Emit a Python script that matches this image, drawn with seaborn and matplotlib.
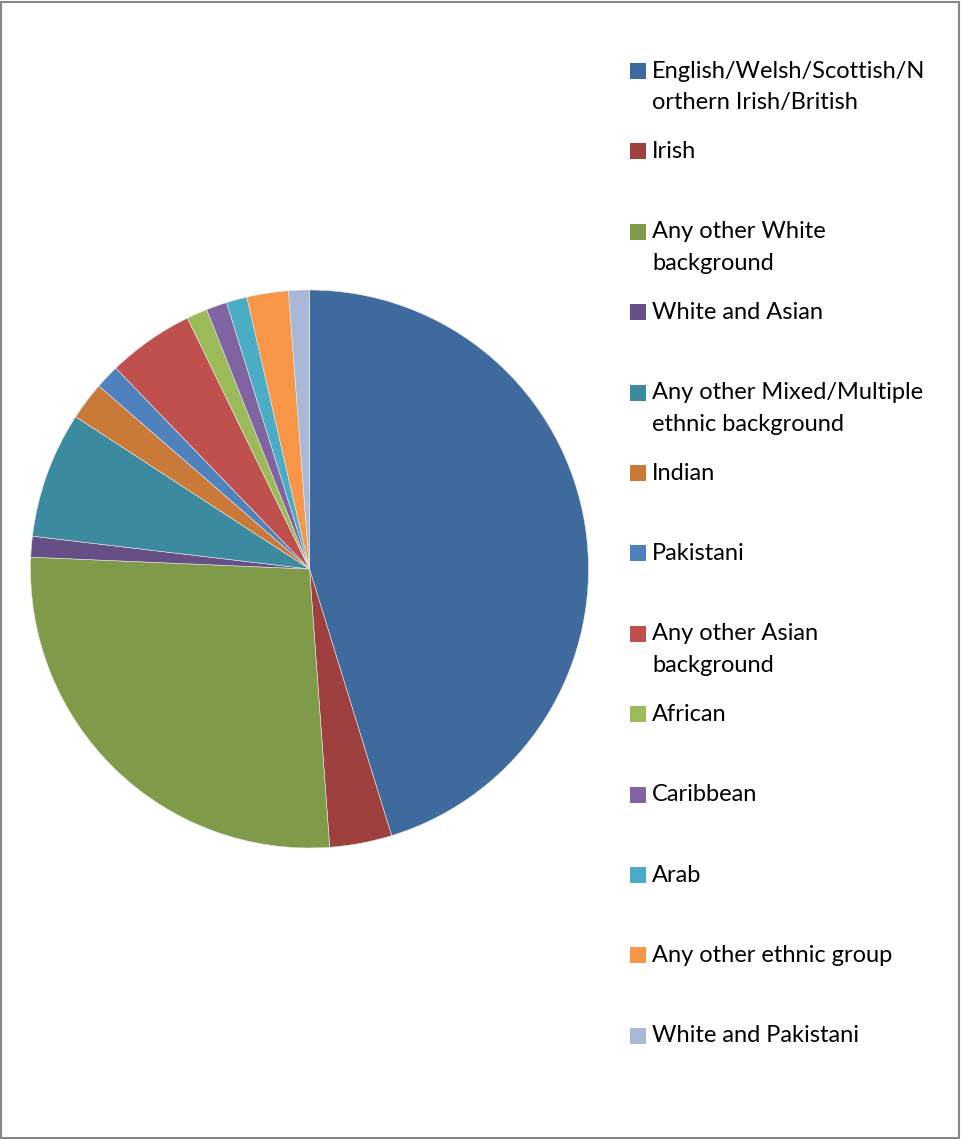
import numpy as np
import matplotlib.pyplot as plt
import seaborn as sns
from matplotlib.patches import Rectangle

sns.set_theme(style='white')
plt.rcParams['font.family'] = ['Lato', 'DejaVu Sans']

#::: data (share in %)
groups = ['English/Welsh/Scottish/N\northern Irish/British', 'Irish',
          'Any other White\nbackground', 'White and Asian',
          'Any other Mixed/Multiple\nethnic background', 'Indian', 'Pakistani',
          'Any other Asian\nbackground', 'African', 'Caribbean', 'Arab',
          'Any other ethnic group', 'White and Pakistani']
shares = [45.2, 3.6, 26.8, 1.2, 7.3, 2.2, 1.4, 5.0, 1.2, 1.2, 1.2, 2.4, 1.2]
colors = ['#3F6A9D', '#9E413E', '#7F9A48', '#664F84', '#3C8AA0', '#CA7A38',
          '#4F81BD', '#C0504D', '#9BBB59', '#8064A2', '#4BACC6', '#F79646',
          '#A9B8D6']
palette = sns.color_palette(colors)

W, H = 961, 1139
fig = plt.figure(figsize=(W / 100, H / 100), dpi=100)
fig.patch.set_facecolor('white')

#::: pie
cx, cy, r = 309.5, 569, 279
ax = fig.add_axes([(cx - r) / W, (H - cy - r) / H, 2 * r / W, 2 * r / H])
ax.pie(shares, colors=palette, startangle=90, counterclock=False, radius=1,
       wedgeprops={'edgecolor': '#e8e8e8', 'linewidth': 0.4})
ax.set_xlim(-1, 1)
ax.set_ylim(-1, 1)
ax.set_aspect('equal')
ax.axis('off')

#::: legend (first line aligned with the marker)
y0, dy, line_h = 71, 80.4, 32
for i, (lab, col) in enumerate(zip(groups, palette)):
    yc = y0 + i * dy
    fig.patches.append(Rectangle((630 / W, 1 - (yc + 8) / H), 16 / W, 16 / H,
                                 transform=fig.transFigure, facecolor=col,
                                 edgecolor='none'))
    for j, line in enumerate(lab.split('\n')):
        fig.text(652 / W, 1 - (yc + j * line_h) / H, line, fontsize=17,
                 color='black', va='center', ha='left')

#::: border
fig.patches.append(Rectangle((0.5 / W, 1.5 / H), (W - 2.5) / W, (H - 3) / H,
                             transform=fig.transFigure, facecolor='none',
                             edgecolor='#868686', linewidth=1.5))

fig.savefig('out.png', dpi=100)
